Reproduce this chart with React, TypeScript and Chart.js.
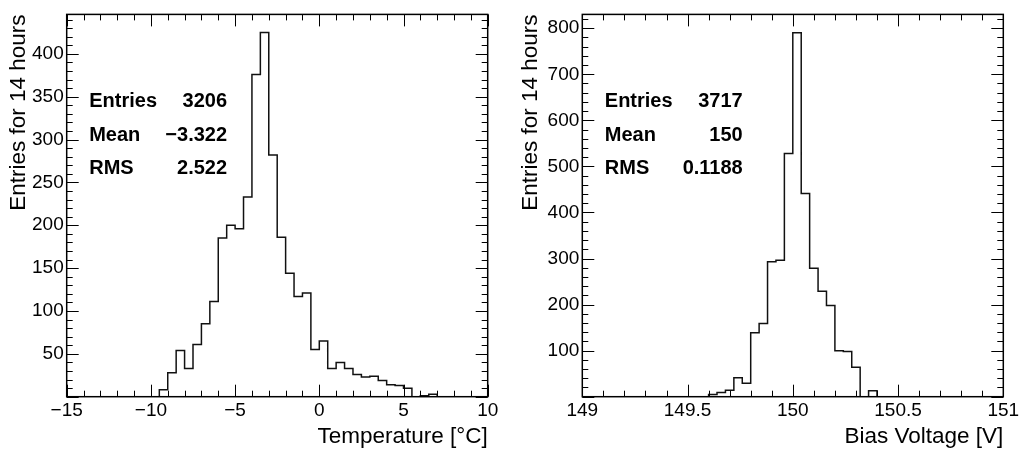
import { useEffect, useRef } from 'react';
import { Chart, registerables } from 'chart.js';

Chart.register(...registerables);

// ---------- data ----------
const tempBinStart = -15;
const tempBinWidth = 0.5;
const tempCounts = [
  0, 0, 0, 0, 0, 0, 0, 0, 0, 0, 0,
  8, 28, 54, 33, 61, 85, 111, 185, 200, 196,
  233, 376, 425, 282, 186, 144, 117, 121, 55, 65,
  33, 40, 33, 26, 23, 24, 19, 14, 13, 10,
  0, 1, 3, 0, 0, 0, 0, 0, 0,
];
const tempXTicks = [-15, -10, -5, 0, 5, 10];
const tempYTicks = [50, 100, 150, 200, 250, 300, 350, 400];

const biasBinStart = 149;
const biasBinWidth = 0.04;
const biasCounts = [
  0, 0, 0, 0, 0, 0, 0, 0, 0, 0, 0, 0, 0, 0, 0,
  5, 9, 14, 41, 29, 139, 159, 293, 296, 528,
  790, 441, 279, 229, 198, 100, 98, 64, 0, 13,
  0, 0, 0, 0, 0, 0, 0, 0, 0, 0, 0, 0, 0, 0, 0,
];
const biasXTicks = [149, 149.5, 150, 150.5, 151];
const biasYTicks = [100, 200, 300, 400, 500, 600, 700, 800];

const statLabels = ['Entries', 'Mean', 'RMS'];
const tempStats = ['3206', '\u22123.322', '2.522'];
const biasStats = ['3717', '150', '0.1188'];

// ---------- helpers ----------
const NARROW = "'Liberation Sans Narrow', 'Liberation Sans', Arial, sans-serif";
const SANS = "'Liberation Sans', Arial, sans-serif";

function histPoints(counts: number[], start: number, w: number) {
  const pts: { x: number; y: number }[] = [{ x: start, y: 0 }];
  counts.forEach((c, i) => {
    pts.push({ x: start + i * w, y: c });
    pts.push({ x: start + (i + 1) * w, y: c });
  });
  pts.push({ x: start + counts.length * w, y: 0 });
  return pts;
}

function fmt(v: number) {
  const s = String(Math.round(v * 1000) / 1000);
  return s.replace('-', '\u2212');
}

const rootFrame = {
  id: 'rootFrame',
  afterDatasetsDraw(chart: any, _args: any, opts: any) {
    const { ctx, chartArea: a, scales } = chart;
    const x = scales.x;
    const y = scales.y;
    ctx.save();
    ctx.strokeStyle = '#000';
    ctx.lineWidth = 1;
    ctx.beginPath();
    const nx = Math.round((x.max - x.min) / opts.xMinor);
    for (let i = 0; i <= nx; i++) {
      const v = x.min + i * opts.xMinor;
      const r = v / opts.xMajor;
      const major = Math.abs(r - Math.round(r)) < 1e-6;
      const len = major ? 12 : 6;
      const px = Math.round(x.getPixelForValue(v)) + 0.5;
      ctx.moveTo(px, a.bottom);
      ctx.lineTo(px, a.bottom - len);
      ctx.moveTo(px, a.top);
      ctx.lineTo(px, a.top + len);
    }
    const ny = Math.floor((y.max - y.min) / opts.yMinor + 1e-6);
    for (let i = 0; i <= ny; i++) {
      const v = y.min + i * opts.yMinor;
      const r = v / opts.yMajor;
      const major = Math.abs(r - Math.round(r)) < 1e-6;
      const len = major ? 12 : 6;
      const py = Math.round(y.getPixelForValue(v)) + 0.5;
      ctx.moveTo(a.left, py);
      ctx.lineTo(a.left + len, py);
      ctx.moveTo(a.right, py);
      ctx.lineTo(a.right - len, py);
    }
    ctx.stroke();
    ctx.lineWidth = 1.5;
    ctx.strokeRect(a.left, a.top, a.right - a.left, a.bottom - a.top);

    // stats box text
    ctx.fillStyle = '#000';
    ctx.font = `bold 20px ${SANS}`;
    ctx.textBaseline = 'middle';
    const rows = [101.7, 135, 168.3];
    statLabels.forEach((lab, i) => {
      ctx.textAlign = 'left';
      ctx.fillText(lab, a.left + 22.5, rows[i]);
      ctx.textAlign = 'right';
      ctx.fillText(opts.stats[i], a.left + 160.4, rows[i]);
    });
    ctx.restore();
  },
};

function makeConfig(p: any): any {
  return {
    type: 'line',
    data: {
      datasets: [
        {
          data: histPoints(p.counts, p.start, p.width),
          borderColor: '#111',
          borderWidth: 1.5,
          pointRadius: 0,
          tension: 0,
          fill: false,
        },
      ],
    },
    options: {
      animation: false,
      responsive: false,
      events: [],
      layout: { padding: { top: 10, right: p.padRight, left: 0, bottom: 0 } },
      plugins: {
        legend: { display: false },
        tooltip: { enabled: false },
        rootFrame: {
          xMajor: p.xMajor,
          xMinor: p.xMinor,
          yMajor: p.yMajor,
          yMinor: p.yMinor,
          stats: p.stats,
        },
      },
      scales: {
        x: {
          type: 'linear',
          min: p.xMin,
          max: p.xMax,
          grid: { display: false, drawTicks: false },
          border: { display: false },
          afterBuildTicks: (axis: any) => {
            axis.ticks = p.xTicks.map((v: number) => ({ value: v }));
          },
          afterFit: (axis: any) => {
            axis.height = 53.3;
          },
          ticks: {
            autoSkip: false,
            maxRotation: 0,
            padding: 3,
            color: '#000',
            font: { family: NARROW, size: 19 },
            callback: (v: number) => fmt(v),
          },
          title: {
            display: true,
            text: p.xTitle,
            align: 'end',
            color: '#000',
            font: { family: NARROW, size: 22.5 },
            padding: { top: 0, bottom: 0 },
          },
        },
        y: {
          type: 'linear',
          min: 0,
          max: p.yMax,
          grid: { display: false, drawTicks: false },
          border: { display: false },
          afterBuildTicks: (axis: any) => {
            axis.ticks = p.yTicks.map((v: number) => ({ value: v }));
          },
          afterFit: (axis: any) => {
            axis.width = p.yWidth;
          },
          ticks: {
            autoSkip: false,
            padding: 3,
            color: '#000',
            font: { family: NARROW, size: 19 },
            callback: (v: number) => fmt(v),
          },
          title: {
            display: true,
            text: 'Entries for 14 hours',
            align: 'end',
            color: '#000',
            font: { family: NARROW, size: 22.5 },
            padding: { top: 5, bottom: 0 },
          },
        },
      },
    },
    plugins: [rootFrame],
  };
}

export default function App() {
  const leftRef = useRef<HTMLCanvasElement>(null);
  const rightRef = useRef<HTMLCanvasElement>(null);

  useEffect(() => {
    const c1 = new Chart(
      leftRef.current as HTMLCanvasElement,
      makeConfig({
        counts: tempCounts,
        start: tempBinStart,
        width: tempBinWidth,
        xMin: -15,
        xMax: 10,
        xTicks: tempXTicks,
        yTicks: tempYTicks,
        yMax: 446,
        xMajor: 5,
        xMinor: 1,
        yMajor: 50,
        yMinor: 10,
        padRight: 24.3,
        yWidth: 66.7,
        xTitle: 'Temperature [\u00B0C]',
        stats: tempStats,
      })
    );
    const c2 = new Chart(
      rightRef.current as HTMLCanvasElement,
      makeConfig({
        counts: biasCounts,
        start: biasBinStart,
        width: biasBinWidth,
        xMin: 149,
        xMax: 151,
        xTicks: biasXTicks,
        yTicks: biasYTicks,
        yMax: 830,
        xMajor: 0.5,
        xMinor: 0.1,
        yMajor: 100,
        yMinor: 20,
        padRight: 20.7,
        yWidth: 70.3,
        xTitle: 'Bias Voltage [V]',
        stats: biasStats,
      })
    );
    return () => {
      c1.destroy();
      c2.destroy();
    };
  }, []);

  return (
    <div style={{ position: 'fixed', left: 0, top: 0, width: 1024, height: 450, background: '#fff' }}>
      <canvas ref={leftRef} width={512} height={450} style={{ position: 'absolute', left: 0, top: 0 }} />
      <canvas ref={rightRef} width={512} height={450} style={{ position: 'absolute', left: 512, top: 0 }} />
    </div>
  );
}
